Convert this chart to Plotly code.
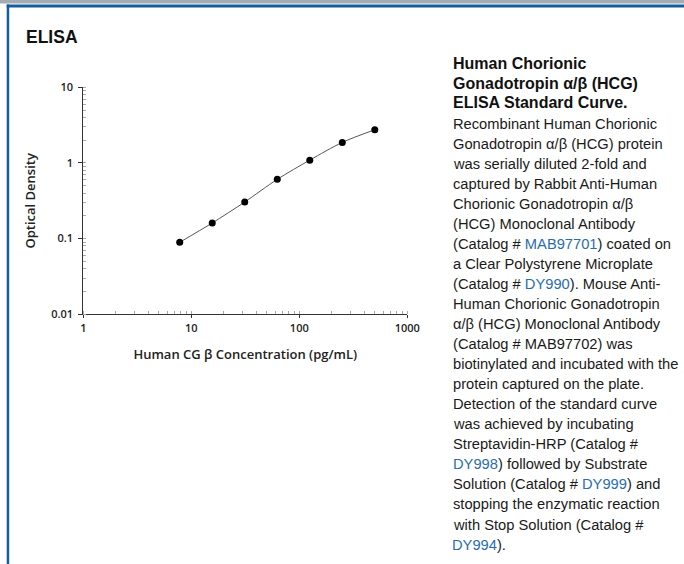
import plotly.graph_objects as go

W, H = 684, 564

# ---- data ----
concentration = [7.8125, 15.625, 31.25, 62.5, 125, 250, 500]
optical_density = [0.0895, 0.161, 0.305, 0.608, 1.09, 1.87, 2.75]

x_tickvals = [1, 10, 100, 1000]
x_ticktext = ["1", "10", "100", "1000"]
y_tickvals = [0.01, 0.1, 1, 10]
y_ticktext = ["0.01", "0.1", "1", "10"]

heading_lines = ["Human Chorionic", "Gonadotropin α/β (HCG)", "ELISA Standard Curve."]
LINK = "#2a6cb0"
def link(t):
    return f"<span style='color:{LINK}'>{t}</span>"
body_lines = [
    "Recombinant Human Chorionic",
    "Gonadotropin α/β (HCG) protein",
    "was serially diluted 2-fold and",
    "captured by Rabbit Anti-Human",
    "Chorionic Gonadotropin α/β",
    "(HCG) Monoclonal Antibody",
    "(Catalog # " + link("MAB97701") + ") coated on",
    "a Clear Polystyrene Microplate",
    "(Catalog # " + link("DY990") + "). Mouse Anti-",
    "Human Chorionic Gonadotropin",
    "α/β (HCG) Monoclonal Antibody",
    "(Catalog # MAB97702) was",
    "biotinylated and incubated with the",
    "protein captured on the plate.",
    "Detection of the standard curve",
    "was achieved by incubating",
    "Streptavidin-HRP (Catalog #",
    link("DY998") + ") followed by Substrate",
    "Solution (Catalog # " + link("DY999") + ") and",
    "stopping the enzymatic reaction",
    "with Stop Solution (Catalog #",
    link("DY994") + ").",
]

def px(x):
    return x / W
def py(y):
    return 1 - y / H

# plot area in pixels
PL, PR, PT, PB = 83.3, 407.3, 87.3, 314.3

fig = go.Figure()
fig.add_trace(go.Scatter(
    x=concentration, y=optical_density, mode="lines+markers",
    line=dict(color="#555555", width=1, shape="spline", smoothing=0.8),
    marker=dict(color="#000000", size=7),
    showlegend=False, hoverinfo="x+y",
))

axis_font = dict(family="Open Sans", size=11, color="#222222", weight=600)
title_font = dict(family="Open Sans", size=13, color="#222222", weight=600)
fig.update_layout(
    width=W, height=H,
    margin=dict(l=0, r=0, t=0, b=0),
    paper_bgcolor="white", plot_bgcolor="white",
    template="none",
    xaxis=dict(
        type="log", range=[0, 3], domain=[px(PL), px(PR)],
        tickvals=x_tickvals, ticktext=x_ticktext,
        ticks="outside", ticklen=3, tickcolor="#333333", tickwidth=1,
        tickfont=axis_font, showgrid=False, zeroline=False,
        showline=True, linecolor="#333333", linewidth=1,
        minor=dict(ticks="inside", ticklen=3, tickcolor="#aaaaaa", dtick="D1", showgrid=False),
        title=dict(text="Human CG β Concentration (pg/mL)", font=title_font, standoff=16),
        automargin=False,
    ),
    yaxis=dict(
        type="log", range=[-2, 1], domain=[py(PB), py(PT)],
        tickvals=y_tickvals, ticktext=y_ticktext,
        ticks="outside", ticklen=4, tickcolor="#333333", tickwidth=1,
        ticklabelstandoff=3,
        tickfont=axis_font, showgrid=False, zeroline=False,
        showline=True, linecolor="#333333", linewidth=1,
        minor=dict(ticks="inside", ticklen=3, tickcolor="#aaaaaa", dtick="D1", showgrid=False),
        title=dict(text="Optical Density", font=title_font, standoff=12),
        automargin=False,
    ),
)

# frame decorations
shapes = [
    dict(type="rect", xref="paper", yref="paper", x0=0, x1=1, y0=py(0), y1=py(3.4),
         fillcolor="#a3abb3", line=dict(width=0), layer="above"),
    dict(type="rect", xref="paper", yref="paper", x0=px(6.7), x1=1, y0=py(4.5), y1=py(7.5),
         fillcolor="#155c9e", line=dict(width=0), layer="above"),
    dict(type="rect", xref="paper", yref="paper", x0=px(6.7), x1=px(9.2), y0=py(4.5), y1=py(H),
         fillcolor="#155c9e", line=dict(width=0), layer="above"),
]
fig.update_layout(shapes=shapes)

ann = []
ann.append(dict(text="<b>ELISA</b>", x=px(23.5), y=py(37), xref="paper", yref="paper",
                xanchor="left", yanchor="middle", showarrow=False,
                font=dict(family="Liberation Sans", size=17.5, color="#111111")))
heading_y = [63.3, 83.3, 102.5]
for t, yy in zip(heading_lines, heading_y):
    ann.append(dict(text="<b>" + t + "</b>", x=px(451), y=py(yy), xref="paper", yref="paper",
                    xanchor="left", yanchor="middle", showarrow=False,
                    font=dict(family="Liberation Sans", size=16, color="#111111")))
for i, t in enumerate(body_lines):
    yy = 123.5 + i * 20.05
    ann.append(dict(text=t, x=px(450.5), y=py(yy), xref="paper", yref="paper",
                    xanchor="left", yanchor="middle", showarrow=False,
                    font=dict(family="Liberation Sans", size=14.7, color="#1a1a1a")))
fig.update_layout(annotations=ann)

fig.write_html("out.html", config={"displayModeBar": False},
               post_script="document.body.style.margin='0px';")
